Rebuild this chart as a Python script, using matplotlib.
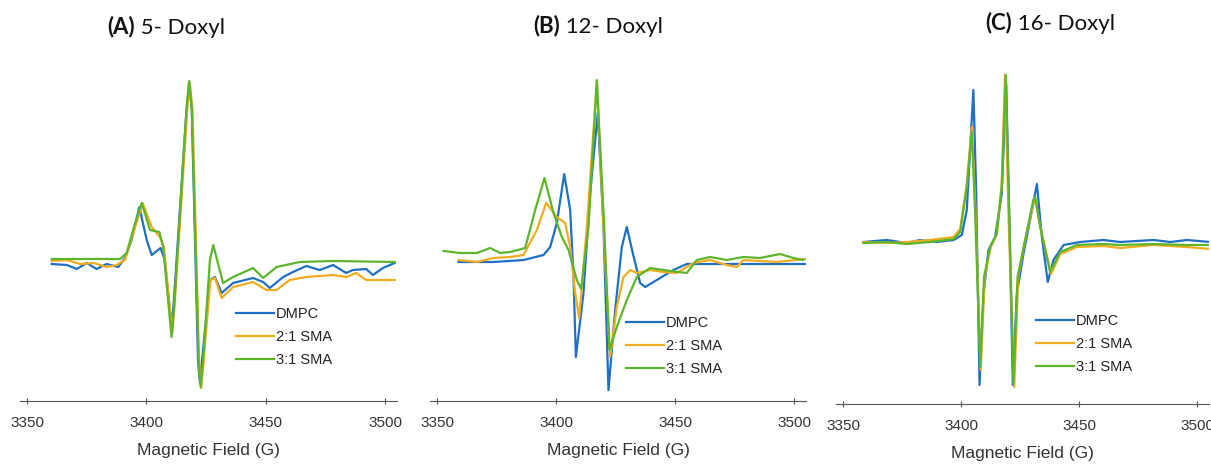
import matplotlib
matplotlib.use("Agg")
import matplotlib.pyplot as plt

# ---- data (field in G, signal in arbitrary units) ----
labels = ["DMPC", "2:1 SMA", "3:1 SMA"]
colors = ["#1f6fc5", "#f2ac1f", "#5db52c"]
titles_bold = ["(A)", "(B)", "(C)"]
titles_rest = [" 5- Doxyl", " 12- Doxyl", " 16- Doxyl"]

# (A) 5-Doxyl
a_dmpc_x = [3360.3, 3366.6, 3370.8, 3375.0, 3379.1, 3383.3, 3388.2, 3391.0, 3393.8, 3397.0,
            3400.1, 3402.2, 3405.9, 3407.7, 3410.5, 3411.5, 3416.8, 3417.9, 3419.0, 3421.6,
            3422.4, 3423.3, 3426.6, 3428.7, 3431.5, 3436.3, 3444.7, 3448.9, 3451.7, 3457.3,
            3461.4, 3467.0, 3472.6, 3478.2, 3483.7, 3486.5, 3492.1, 3494.9, 3499.1, 3504.0]
a_dmpc_y = [-4, -5, -9, -3, -9, -4, -7, 2, 20, 53,
            20, 5, 12, 0, -67, -40, 150, 177, 150, -100,
            -123, -100, -20, -17, -33, -23, -18, -22, -28, -17,
            -12, -6, -10, -5, -13, -10, -9, -15, -8, -3]
a_sma21_x = [3360.3, 3366.6, 3372.2, 3377.8, 3383.3, 3387.5, 3391.0, 3394.5, 3398.4, 3402.2,
             3405.6, 3407.3, 3410.8, 3411.8, 3417.1, 3418.2, 3419.3, 3422.1, 3422.9, 3423.8,
             3426.8, 3428.7, 3431.5, 3436.3, 3444.7, 3450.3, 3454.5, 3460.0, 3467.0, 3478.2,
             3483.7, 3487.9, 3492.1, 3504.0]
a_sma21_y = [-1, 0, -4, -3, -7, -5, 0, 27, 57, 33,
             23, 13, -73, -45, 150, 177, 150, -105, -128, -105,
             -20, -18, -38, -27, -22, -30, -30, -20, -17, -15,
             -17, -13, -20, -20]
a_sma31_x = [3360.3, 3388.9, 3391.7, 3395.0, 3398.0, 3401.5, 3405.4, 3407.0, 3410.5, 3411.5,
             3416.8, 3417.9, 3419.0, 3421.9, 3422.7, 3423.6, 3426.6, 3428.0, 3432.1, 3436.3,
             3444.7, 3448.9, 3454.5, 3464.2, 3478.2, 3504.0]
a_sma31_y = [1, 1, 7, 35, 57, 30, 28, 13, -77, -50,
             152, 179, 152, -105, -127, -105, 0, 15, -23, -17,
             -8, -18, -7, -2, -1, -2]

# (B) 12-Doxyl
b_dmpc_x = [3359.0, 3373.7, 3386.3, 3394.7, 3397.5, 3400.3, 3403.4, 3405.9, 3407.3, 3408.3,
            3411.5, 3414.3, 3417.5, 3419.9, 3422.0, 3424.8, 3427.6, 3429.7, 3432.2, 3435.3,
            3437.4, 3442.3, 3449.3, 3454.9, 3464.7, 3504.6]
b_dmpc_y = [-2, -2, 0, 5, 13, 37, 86, 50, -17, -97,
            -33, 67, 147, 33, -130, -50, 13, 33, 7, -23,
            -27, -20, -10, -4, -4, -4]
b_sma21_x = [3359.0, 3366.7, 3373.7, 3380.7, 3386.3, 3391.9, 3395.8, 3400.3, 3403.8, 3405.9,
             3408.0, 3409.7, 3412.9, 3417.1, 3419.9, 3422.7, 3425.5, 3428.3, 3431.1, 3433.9,
             3439.5, 3445.1, 3450.7, 3457.7, 3464.7, 3471.7, 3475.9, 3478.7, 3492.7, 3504.6]
b_sma21_y = [0, -2, 2, 3, 5, 30, 57, 43, 37, 13,
             -33, -58, 33, 178, 33, -97, -47, -17, -10, -13,
             -10, -12, -13, -3, 0, -5, -7, 0, -2, 1]
b_sma31_x = [3352.7, 3359.7, 3366.7, 3372.3, 3376.5, 3380.7, 3387.0, 3391.2, 3395.1, 3398.9,
             3402.4, 3405.2, 3408.7, 3410.5, 3413.6, 3417.1, 3420.2, 3422.4, 3425.5, 3429.7,
             3433.9, 3439.5, 3447.9, 3454.9, 3459.1, 3464.7, 3471.7, 3478.7, 3485.7, 3494.1,
             3499.7, 3503.9]
b_sma31_y = [9, 7, 7, 12, 7, 8, 12, 50, 82, 47,
             23, 10, -20, -29, 33, 180, 33, -90, -67, -40,
             -17, -8, -11, -13, 0, 3, 0, 3, 2, 6,
             2, 0]

# (C) 16-Doxyl
c_dmpc_x = [3358.6, 3368.5, 3377.0, 3382.6, 3389.7, 3396.8, 3400.3, 3402.4, 3405.2, 3406.4,
            3407.8, 3409.5, 3411.6, 3414.4, 3417.2, 3419.1, 3420.5, 3421.9, 3423.6, 3426.4,
            3429.2, 3432.1, 3434.2, 3436.7, 3439.1, 3443.4, 3450.4, 3460.3, 3467.4, 3481.5,
            3488.6, 3495.6, 3505.5]
c_dmpc_y = [0, 2, -1, 2, 0, 2, 7, 32, 152, 48,
            -143, -52, -8, 5, 48, 158, 15, -143, -52, -12,
            22, 58, 5, -40, -18, -3, 0, 2, 0, 2,
            0, 2, 0]
c_sma21_x = [3358.6, 3368.5, 3377.0, 3386.9, 3396.8, 3399.6, 3402.4, 3404.5, 3406.1, 3408.3,
             3410.0, 3412.6, 3415.1, 3417.2, 3418.6, 3420.2, 3422.5, 3424.2, 3427.1, 3430.6,
             3431.4, 3433.8, 3438.1, 3442.0, 3449.0, 3460.3, 3467.4, 3481.5, 3495.6, 3505.5]
c_sma21_y = [0, -1, 0, 2, 5, 13, 58, 115, 32, -128,
             -35, -5, 8, 58, 167, 15, -145, -35, 2, 38,
             42, 12, -32, -12, -5, -4, -6, -3, -5, -7]
c_sma31_x = [3358.6, 3368.5, 3377.0, 3386.9, 3396.8, 3399.6, 3402.4, 3404.5, 3405.9, 3408.1,
             3409.7, 3412.3, 3415.1, 3417.2, 3418.9, 3420.5, 3422.2, 3423.9, 3427.1, 3430.6,
             3431.4, 3433.5, 3437.7, 3442.0, 3449.0, 3460.3, 3467.4, 3481.5, 3495.6, 3505.5]
c_sma31_y = [-1, 0, -2, 0, 3, 10, 55, 110, 32, -125,
             -35, -5, 8, 55, 167, 15, -142, -35, 2, 42,
             45, 15, -30, -10, -3, -2, -3, -2, -3, -3]

panels = [
    [(a_dmpc_x, a_dmpc_y), (a_sma21_x, a_sma21_y), (a_sma31_x, a_sma31_y)],
    [(b_dmpc_x, b_dmpc_y), (b_sma21_x, b_sma21_y), (b_sma31_x, b_sma31_y)],
    [(c_dmpc_x, c_dmpc_y), (c_sma21_x, c_sma21_y), (c_sma31_x, c_sma31_y)],
]

# ---- layout (pixels of a 1211x465 figure) ----
W, H = 1211, 465
ax_boxes = [(20, 60, 377, 341), (430, 60, 376, 341), (836, 60, 373, 344)]
ylims = [(-141, 200), (-141, 200), (-162, 182)]
legend_pos = [(236, 319), (626, 328), (1036, 326)]
title_pos = [(107, 27), (533, 26), (985, 23)]

plt.rcParams["font.family"] = ["Liberation Sans", "DejaVu Sans"]
fig = plt.figure(figsize=(W / 100, H / 100), dpi=100)

for i, series in enumerate(panels):
    l, t, w, h = ax_boxes[i]
    ax = fig.add_axes([l / W, (H - t - h) / H, w / W, h / H])
    for (x, y), lab, col in zip(series, labels, colors):
        ax.plot(x, y, color=col, lw=1.6, label=lab)
    ax.set_xlim(3347, 3505)
    ax.set_ylim(*ylims[i])
    ax.set_xticks([3350, 3400, 3450, 3500])
    for s in ["top", "right", "left"]:
        ax.spines[s].set_visible(False)
    ax.spines["bottom"].set_color("#555555")
    ax.set_yticks([])
    ax.tick_params(axis="x", direction="inout", length=5, color="#555555",
                   labelsize=11, labelcolor="#333333", pad=8)
    ax.set_xlabel("Magnetic Field (G)", fontsize=12.5, color="#333333", labelpad=10)
    ax.patch.set_alpha(0)

    lx, ly = legend_pos[i]
    ax.legend(loc="upper left", bbox_to_anchor=(lx / W, 1 - (ly - 12) / H),
              bbox_transform=fig.transFigure, frameon=False, fontsize=10.5,
              handlelength=2.6, handletextpad=0.15, labelspacing=0.62,
              borderpad=0, borderaxespad=0, labelcolor="#222222")

    tx, ty = title_pos[i]
    bold = fig.text(tx / W, 1 - ty / H, titles_bold[i], family="Lato", weight="bold",
                    fontsize=16, va="center", ha="left", color="#111111")
    ax.annotate(titles_rest[i], xy=(1, 0), xycoords=bold, va="bottom", ha="left",
                family="Lato", fontsize=16, color="#111111", annotation_clip=False)

fig.savefig("out.png", dpi=100)
